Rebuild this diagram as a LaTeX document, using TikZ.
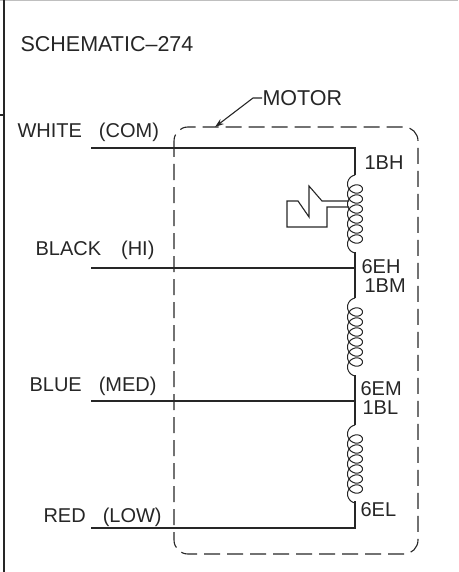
\documentclass[tikz,border=0pt]{standalone}
\usepackage{fontspec}
\setmainfont{Liberation Sans}
\usepackage{tikz}
\usetikzlibrary{calc,positioning,arrows.meta}

\newcommand{\wgap}{\hspace{17pt}}

\begin{document}
\begin{tikzpicture}[x=1pt, y=-1pt, line width=1.1pt, color=black!85,
        wirelabel/.style={inner sep=0pt, anchor=base west, font=\fontsize{20}{20}\selectfont},
        headlabel/.style={inner sep=0pt, anchor=base west, font=\fontsize{21.5}{21.5}\selectfont},
        termlabel/.style={inner sep=0pt, anchor=west, font=\fontsize{20}{20}\selectfont},
        windingcoil/.pic={\draw[line width=1pt] plot[smooth, samples=157, domain=-90:2250]
            ({-7.5*cos(\x)}, {(\x+90)/360*10+6.5*sin(\x)+6.5});}]
        \useasboundingbox (0,0) rectangle (458,572);

        % sheet edge
        \draw[black!25, line width=1.5pt] (0,0) -- (458,0);
        \draw[line width=1.3pt] (4,0) -- (4,572);
        \draw (0,115) -- (4,115);

        % motor outline
        \draw[dashed, dash pattern=on 16pt off 7pt, rounded corners=14pt] (174,127) rectangle (418,554);

        \node (title) [headlabel] at (20,52) {SCHEMATIC–274};
        \node (motor) [headlabel, anchor=west] at (262,98) {MOTOR};
        \coordinate (bend) at (253,98);
        \coordinate (tip) at (215,127);
        \draw[-{Stealth[length=9pt,width=6pt]}] (motor.west) -- (bend) -- (tip);

        \node (white) [wirelabel] at (17,138) {WHITE\wgap(COM)};
        \node (black) [wirelabel] at (35,255) {BLACK\hspace{20pt}(HI)};
        \node (blue) [wirelabel] at (29,391) {BLUE\wgap(MED)};
        \node (red) [wirelabel] at (43,522) {RED\wgap(LOW)};

        % wire ends
        \coordinate (whitein) at (91,148);
        \coordinate (blackin) at (91,268);
        \coordinate (bluein) at (91,401);
        \coordinate (redin) at (91,528);
        \coordinate (whitejoin) at (355,148);
        \coordinate (blackjoin) at (355,268);
        \coordinate (bluejoin) at (355,401);
        \coordinate (redjoin) at (355,528);

        % coil ends
        \coordinate (coilhi) at (355,175);
        \coordinate (coilhiend) at (355,252);
        \coordinate (coilmed) at (355,298);
        \coordinate (coilmedend) at (355,375);
        \coordinate (coillow) at (355,425);
        \coordinate (coillowend) at (355,501);

        \draw (whitein) -- (whitejoin) -- (coilhi);
        \draw (blackin) -- (blackjoin);
        \draw (bluein) -- (bluejoin);
        \draw (redin) -- (redjoin) -- (coillowend);
        \draw (coilhiend) -- (blackjoin) -- (coilmed);
        \draw (coilmedend) -- (bluejoin) -- (coillow);
        \foreach \a in {coilhi, coilmed, coillow}
            \pic at (\a) {windingcoil};

        \node (t1bh) [termlabel] at (364,163) {1BH};
        \node (t6eh) [termlabel] at (361,267) {6EH};
        \node (t1bm) [termlabel] at (364,286) {1BM};
        \node (t6em) [termlabel] at (360,389) {6EM};
        \node (t1bl) [termlabel] at (362,408) {1BL};
        \node (t6el) [termlabel] at (360,510) {6EL};

        % protector
        \draw (349,201) -- (322,201) -- (309,186) -- (309,217) -- (298,201) -- (287,201)
            -- (287,227) -- (327,227) -- (327,207) -- (349,207);
    \end{tikzpicture}
\end{document}
